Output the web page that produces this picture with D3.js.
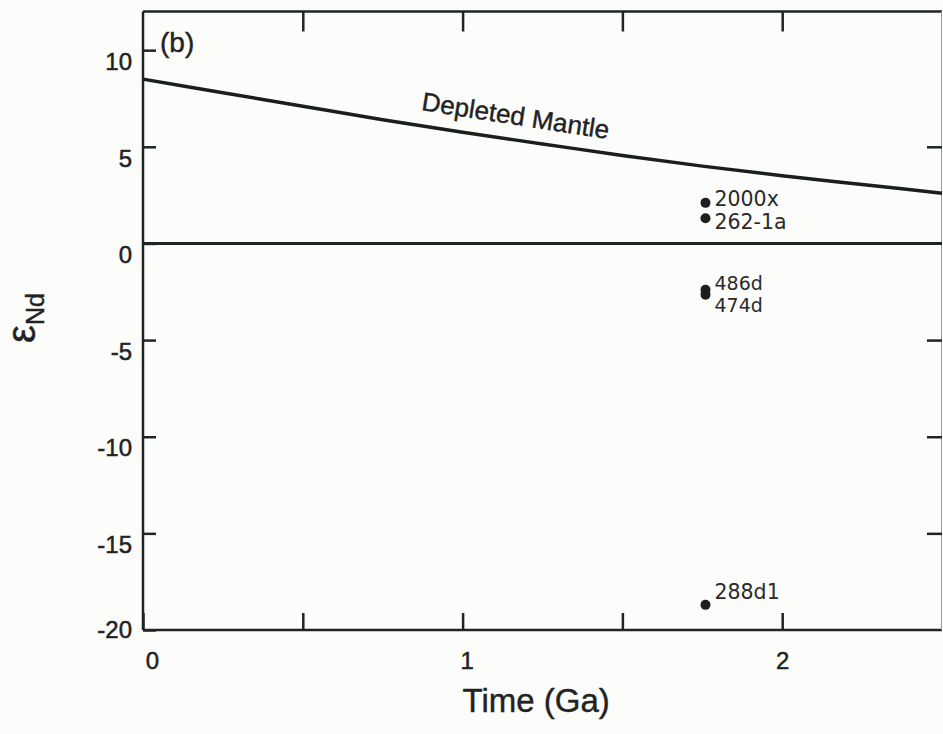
<!DOCTYPE html>
<html>
<head>
<meta charset="utf-8">
<script src="https://cdn.jsdelivr.net/npm/d3@7"></script>
<style>
  html, body { margin: 0; padding: 0; background: #fcfcfb; }
  svg { display: block; }
  .axis text { font-family: "Liberation Sans", Arial, sans-serif; font-size: 24px; fill: #222; stroke: #222; stroke-width: 0.5; }
  .axis line { stroke: #1f2523; stroke-width: 2.5; }
  .axis path.domain { display: none; }
  .title { font-family: "Liberation Sans", Arial, sans-serif; fill: #222; stroke: #222; stroke-width: 0.4; }
  .sample-label { font-family: "DejaVu Sans", sans-serif; font-size: 20.5px; fill: #2a2a2a; }
  .sample-label.tight { font-size: 19px; }
</style>
</head>
<body>
<svg id="chart"></svg>
<script>
// Depleted mantle evolution curve (time in Ga, epsilon Nd)
const mantleAge = [0, 0.25, 0.5, 0.75, 1, 1.25, 1.5, 1.75, 2, 2.25, 2.5];
const mantleEps = [8.5, 7.8, 7.1, 6.4, 5.75, 5.15, 4.55, 4.0, 3.5, 3.05, 2.6];

// samples
const sampleIds = ['2000x', '262-1a', '486d', '474d', '288d1'];
const sampleAge = [1.76, 1.76, 1.76, 1.76, 1.76];
const sampleEps = [2.1, 1.3, -2.4, -2.65, -18.7];

// ticks
const xTicks = [0, 0.5, 1, 1.5, 2];
const xLabelled = [0, 1, 2];
const yTicks = [10, 5, 0, -5, -10, -15, -20];
const yRightTicks = [5, -5, -10, -15];

const width = 943, height = 734;
const margin = {top: 11.5, right: 1, bottom: 104, left: 143};
const innerW = width - margin.left - margin.right;
const innerH = height - margin.top - margin.bottom;

const x = d3.scaleLinear().domain([0, 2.5]).range([0, innerW]);
const y = d3.scaleLinear().domain([-20, 12]).range([innerH, 0]);

const svg = d3.select('#chart')
    .attr('width', width)
    .attr('height', height);

const g = svg.append('g')
    .attr('transform', `translate(${margin.left},${margin.top})`);

// frame: left, bottom, top solid, right faint
g.append('line').attr('x1', 0).attr('x2', 0).attr('y1', 0).attr('y2', innerH)
    .attr('stroke', '#1f2523').attr('stroke-width', 2.5);
g.append('line').attr('x1', 0).attr('x2', innerW).attr('y1', innerH).attr('y2', innerH)
    .attr('stroke', '#1f2523').attr('stroke-width', 2.5);
g.append('line').attr('x1', 0).attr('x2', innerW).attr('y1', 0).attr('y2', 0)
    .attr('stroke', '#1f2523').attr('stroke-width', 2.5);
g.append('line').attr('x1', innerW - 0.5).attr('x2', innerW - 0.5).attr('y1', 0).attr('y2', innerH)
    .attr('stroke', '#9a9d9c').attr('stroke-width', 1);

// left axis, inward ticks (plain hyphen for negatives)
const yAxisG = g.append('g').attr('class', 'axis')
    .call(d3.axisLeft(y).tickValues(yTicks).tickSize(-13).tickPadding(11).tickFormat(d => String(d)));
yAxisG.selectAll('.tick text')
    .attr('dy', d => d === -20 ? '0.3em' : '0.8em');

// right ticks only
g.append('g').attr('class', 'axis')
    .attr('transform', `translate(${innerW},0)`)
    .call(d3.axisRight(y).tickValues(yRightTicks).tickSize(-15).tickFormat(''));

// bottom axis
const xAxisG = g.append('g').attr('class', 'axis')
    .attr('transform', `translate(0,${innerH})`)
    .call(d3.axisBottom(x).tickValues(xTicks).tickSize(-17).tickPadding(22)
        .tickFormat(d => xLabelled.includes(d) ? String(d) : ''));
xAxisG.selectAll('.tick text').attr('dx', d => d === 0 ? 9 : (d === 1 ? 4 : 0));

// top ticks
g.append('g').attr('class', 'axis')
    .call(d3.axisTop(x).tickValues(xTicks.filter(d => d > 0)).tickSize(-20).tickFormat(''));

// zero line
g.append('line')
    .attr('x1', x(0)).attr('x2', x(2.5))
    .attr('y1', y(0)).attr('y2', y(0))
    .attr('stroke', '#1f2523').attr('stroke-width', 3);

// depleted mantle curve
const mantle = mantleAge.map((a, i) => ({age: a, eps: mantleEps[i]}));
const line = d3.line()
    .x(d => x(d.age))
    .y(d => y(d.eps))
    .curve(d3.curveMonotoneX);
g.append('path')
    .datum(mantle)
    .attr('fill', 'none')
    .attr('stroke', '#1a1f1e')
    .attr('stroke-width', 3.5)
    .attr('d', line);

g.append('text')
    .attr('class', 'title')
    .attr('transform', `translate(${x(1.165)},${y(6.5)}) rotate(8.8)`)
    .attr('text-anchor', 'middle')
    .attr('dominant-baseline', 'middle')
    .style('font-size', '26px')
    .text('Depleted Mantle');

// samples
const samples = sampleIds.map((id, i) => ({id: id, age: sampleAge[i], eps: sampleEps[i]}));
const labelShift = {'2000x': -4, '262-1a': 3, '486d': -7, '474d': 11, '288d1': -13};
const tightLabels = ['486d', '474d'];

g.selectAll('circle.sample')
    .data(samples)
    .join('circle')
    .attr('class', 'sample')
    .attr('cx', d => x(d.age))
    .attr('cy', d => y(d.eps))
    .attr('r', 5)
    .attr('fill', '#1e1e1e');

g.selectAll('text.sample-label')
    .data(samples)
    .join('text')
    .attr('class', d => tightLabels.includes(d.id) ? 'sample-label tight' : 'sample-label')
    .attr('x', d => x(d.age) + 9)
    .attr('y', d => y(d.eps) + labelShift[d.id])
    .attr('dy', '0.36em')
    .text(d => d.id);

// panel letter
g.append('text')
    .attr('class', 'title')
    .attr('x', 17)
    .attr('y', 40)
    .style('font-size', '28px')
    .text('(b)');

// axis titles
svg.append('text')
    .attr('class', 'title')
    .attr('x', margin.left + x(1.23))
    .attr('y', 712)
    .attr('text-anchor', 'middle')
    .style('font-size', '33px')
    .text('Time (Ga)');

const yTitle = svg.append('text')
    .attr('class', 'title')
    .attr('transform', `translate(35,318) rotate(-90)`)
    .attr('text-anchor', 'middle');
yTitle.append('tspan').style('font-size', '40px').text('ε');
yTitle.append('tspan').style('font-size', '25px').attr('dy', 9).text('Nd');
</script>
</body>
</html>
